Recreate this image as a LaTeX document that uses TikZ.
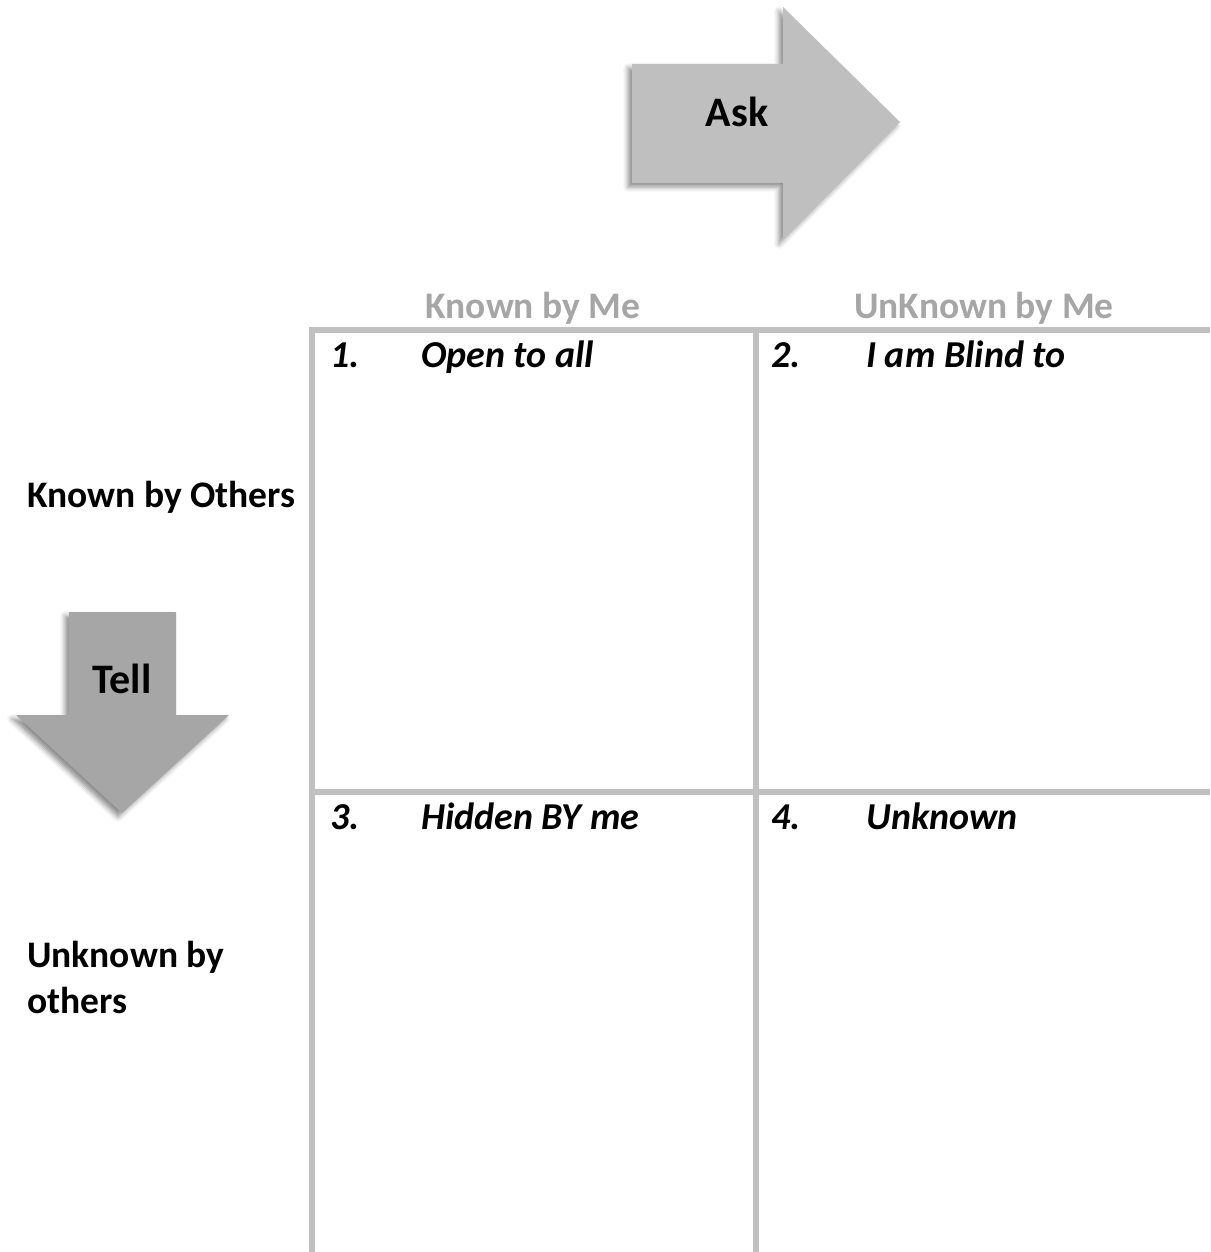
\documentclass[tikz,border=0pt]{standalone}
\usepackage{fontspec}
\setmainfont{Carlito}
\usetikzlibrary{shadows.blur}
\definecolor{gridgray}{HTML}{C0C0C0}
\definecolor{askfill}{HTML}{BFBFBF}
\definecolor{tellfill}{HTML}{A6A6A6}
\definecolor{headgray}{HTML}{A6A6A6}
\tikzset{
  gridline/.style={draw=gridgray, line width=6pt},
  bigarrow/.style={draw=none, blur shadow={shadow xshift=-4pt, shadow yshift=-4pt, shadow blur radius=5pt, shadow opacity=45}},
  arrowtext/.style={font=\fontsize{42}{50}\selectfont\bfseries, text=black, inner sep=0pt},
  colhead/.style={font=\fontsize{37.5}{44}\selectfont\bfseries, text=headgray, inner sep=0pt, anchor=base},
  rowhead/.style={font=\fontsize{37.5}{46}\selectfont\bfseries, text=black, inner sep=0pt, anchor=base west, align=left},
  celltext/.style={font=\fontsize{38}{44}\selectfont\bfseries\itshape, text=black, inner sep=0pt, anchor=base west}
}
\begin{document}
\begin{tikzpicture}[x=1pt, y=-1pt]
\useasboundingbox (0,0) rectangle (1210,1252);
% Ask arrow
\fill[askfill, bigarrow] (632,64) -- (783,64) -- (783,7) -- (900,122) -- (783,240) -- (783,183) -- (632,183) -- cycle;
\node[arrowtext] (ask) at (737,112) {Ask};
% Tell arrow
\fill[tellfill, bigarrow] (69,612) -- (176,612) -- (176,715) -- (229,715) -- (122,813) -- (16,715) -- (69,715) -- cycle;
\node[arrowtext] (tell) at (122,679) {Tell};
% grid
\coordinate (tl) at (309,330);
\coordinate (tr) at (1210,330);
\coordinate (ml) at (309,792);
\coordinate (mr) at (1210,792);
\coordinate (v1t) at (312,327);
\coordinate (v1b) at (312,1252);
\coordinate (v2t) at (756,327);
\coordinate (v2b) at (756,1252);
\draw[gridline] (tl) -- (tr);
\draw[gridline] (ml) -- (mr);
\draw[gridline] (v1t) -- (v1b);
\draw[gridline] (v2t) -- (v2b);
% column headers
\node[colhead] (kme) at (533,318) {Known by Me};
\node[colhead] (ukme) at (984,318) {UnKnown by Me};
% row headers
\node[rowhead] (kot) at (27,507) {Known by Others};
\node[rowhead] (uot) at (27,1013) {Unknown by\\others};
% cell texts
\node[celltext] (n1) at (330,367) {1.};
\node[celltext] (t1) at (421,367) {Open to all};
\node[celltext] (n2) at (771,367) {2.};
\node[celltext] (t2) at (866,367) {I am Blind to};
\node[celltext] (n3) at (330,829) {3.};
\node[celltext] (t3) at (421,829) {Hidden BY me};
\node[celltext] (n4) at (771,829) {4.};
\node[celltext] (t4) at (866,829) {Unknown};
\end{tikzpicture}
\end{document}
